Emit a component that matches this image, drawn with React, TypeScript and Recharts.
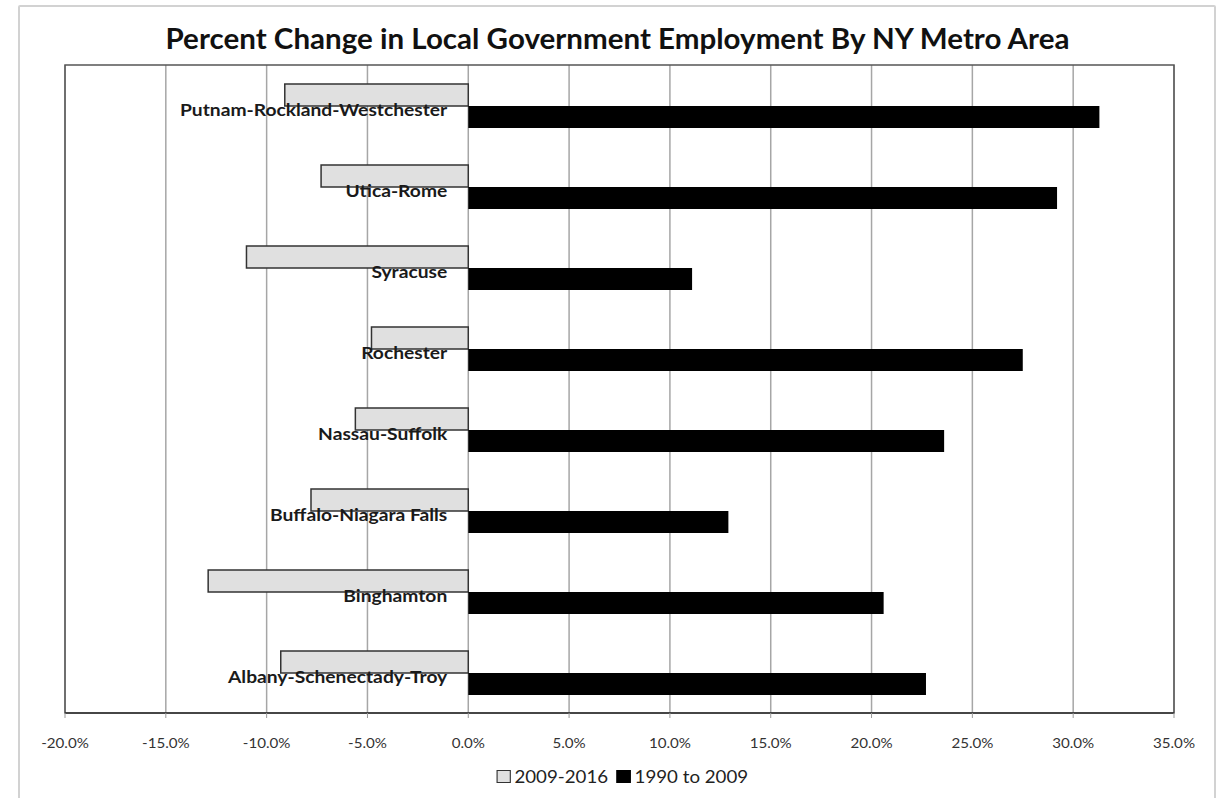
import React from 'react';
import { BarChart, Bar, XAxis, YAxis, CartesianGrid, Legend, LabelList, ReferenceArea } from 'recharts';

const areas = [
  'Putnam-Rockland-Westchester',
  'Utica-Rome',
  'Syracuse',
  'Rochester',
  'Nassau-Suffolk',
  'Buffalo-Niagara Falls',
  'Binghamton',
  'Albany-Schenectady-Troy',
];
const change2009to2016 = [-9.1, -7.3, -11.0, -4.8, -5.6, -7.8, -12.9, -9.3];
const change1990to2009 = [31.3, 29.2, 11.1, 27.5, 23.6, 12.9, 20.6, 22.7];
const xTicks = [-20, -15, -10, -5, 0, 5, 10, 15, 20, 25, 30, 35];
const seriesNames = ['2009-2016', '1990 to 2009'];

const data = areas.map((name, i) => ({
  name,
  recent: change2009to2016[i],
  earlier: change1990to2009[i],
}));

const FONT = 'Lato, "Open Sans", sans-serif';

const CategoryLabel = (props: any) => {
  const { x, y, value } = props;
  return (
    <text
      transform={`translate(${x - 21},${y + 9.5}) scale(1.1,1)`}
      textAnchor="end"
      fontFamily={FONT}
      fontWeight={700}
      fontSize={17.5}
      fill="#1a1a1a"
    >
      {value}
    </text>
  );
};

const XTick = (props: any) => {
  const { x, y, payload } = props;
  return (
    <text
      transform={`translate(${x},${y + 15}) scale(1.08,1)`}
      textAnchor="middle"
      fontFamily={FONT}
      fontSize={14}
      fill="#333"
    >
      {Number(payload.value).toFixed(1) + '%'}
    </text>
  );
};

const LegendContent = () => (
  <div
    style={{
      display: 'flex',
      justifyContent: 'center',
      alignItems: 'center',
      fontFamily: FONT,
      fontSize: 17,
      color: '#222',
      gap: 8,
      transform: 'scaleX(1.1)',
      transformOrigin: 'center',
    }}
  >
    <span style={{ display: 'flex', alignItems: 'center' }}>
      <span
        style={{
          display: 'inline-block',
          width: 11,
          height: 11,
          background: '#e0e0e0',
          border: '1px solid #333',
          marginRight: 3,
        }}
      />
      {seriesNames[0]}
    </span>
    <span style={{ display: 'flex', alignItems: 'center' }}>
      <span
        style={{
          display: 'inline-block',
          width: 11,
          height: 11,
          background: '#000',
          border: '1px solid #000',
          marginRight: 3,
        }}
      />
      {seriesNames[1]}
    </span>
  </div>
);

export default function App() {
  return (
    <div style={{ position: 'absolute', left: 0, top: 0, width: 1225, height: 798, background: '#fff', overflow: 'hidden' }}>
      <div
        style={{
          position: 'absolute',
          left: 18,
          top: 5,
          width: 1194,
          height: 820,
          border: '2px solid #d2d2d2',
          borderRadius: 2,
        }}
      />
      <div
        style={{
          position: 'absolute',
          left: 0,
          top: 21,
          width: 1235,
          textAlign: 'center',
          fontFamily: FONT,
          fontWeight: 700,
          fontSize: 28,
          color: '#111',
          lineHeight: '34px',
          transform: 'scaleX(1.055)',
          transformOrigin: 'center',
        }}
      >
        Percent Change in Local Government Employment By NY Metro Area
      </div>
      <div style={{ position: 'absolute', left: 0, top: 0 }}>
        <BarChart
          width={1225}
          height={798}
          data={data}
          layout="vertical"
          margin={{ top: 65, right: 51, left: 65, bottom: 55 }}
          barGap={0}
          barSize={22}
        >
          <CartesianGrid horizontal={false} stroke="#a6a6a6" strokeWidth={1.5} />
          <XAxis
            type="number"
            domain={[-20, 35]}
            ticks={xTicks}
            interval={0}
            axisLine={{ stroke: '#333', strokeWidth: 1.5 }}
            tickLine={{ stroke: '#999' }}
            tickSize={5}
            tickMargin={15}
            tick={XTick}
          />
          <YAxis type="category" dataKey="name" hide />
          <ReferenceArea x1={-20} x2={35} fill="none" stroke="#555" strokeWidth={1.5} ifOverflow="visible" />
          <Bar dataKey="recent" name={seriesNames[0]} fill="#e0e0e0" stroke="#333" strokeWidth={1.5} isAnimationActive={false} />
          <Bar dataKey="earlier" name={seriesNames[1]} fill="#000" isAnimationActive={false}>
            <LabelList dataKey="name" content={CategoryLabel} />
          </Bar>
          <Legend
            layout="horizontal"
            verticalAlign="middle"
            align="center"
            wrapperStyle={{ top: 766, left: 10, width: 1225 }}
            content={LegendContent}
          />
        </BarChart>
      </div>
    </div>
  );
}
